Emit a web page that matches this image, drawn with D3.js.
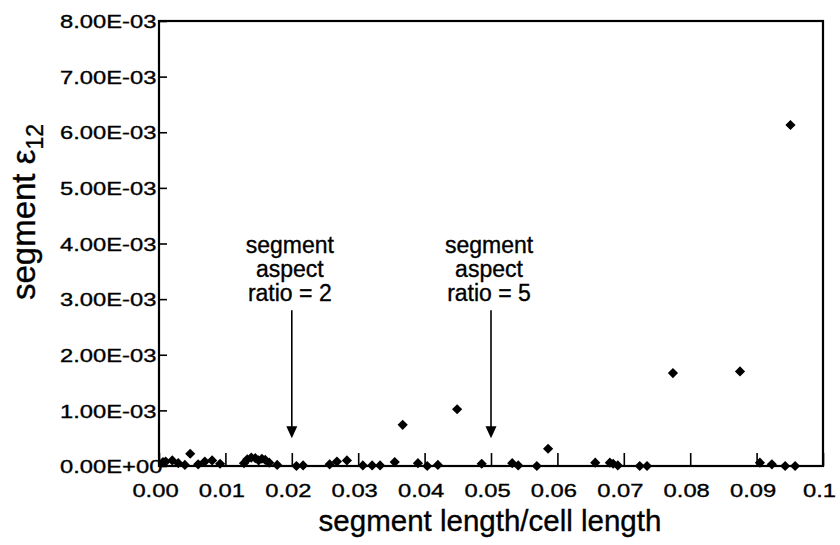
<!DOCTYPE html>
<html>
<head>
<meta charset="utf-8">
<script src="https://cdn.jsdelivr.net/npm/d3@7"></script>
<style>
  body { margin: 0; background: #fff; }
  text { font-family: "Liberation Sans", Arial, Helvetica, sans-serif; fill: #000; stroke: #000; stroke-width: 0.35px; }
</style>
</head>
<body>
<svg id="chart" width="840" height="545"></svg>
<script>
// segment length / cell length
const xVals = [
  0.0006, 0.0010, 0.0020, 0.0029, 0.0039, 0.0047, 0.0059, 0.0069, 0.0080, 0.0092,
  0.0128, 0.0133, 0.0139, 0.0145, 0.0150, 0.0155, 0.0160, 0.0166, 0.0178,
  0.0207, 0.0217, 0.0257, 0.0268, 0.0283,
  0.0307, 0.0321, 0.0333, 0.0355, 0.0367, 0.0390, 0.0404, 0.0420, 0.0449, 0.0486,
  0.0532, 0.0541, 0.0569, 0.0586, 0.0657, 0.0679, 0.0684, 0.0691, 0.0724, 0.0735,
  0.0774, 0.0875, 0.0905, 0.0923, 0.0943, 0.0951, 0.0958
];
// segment e12
const yVals = [
  7e-5, 8e-5, 1e-4, 5e-5, 2e-5, 2.2e-4, 3e-5, 8e-5, 1e-4, 4e-5,
  5e-5, 1.2e-4, 1.5e-4, 1.4e-4, 1e-4, 1.3e-4, 1.1e-4, 6e-5, 2e-5,
  0, 1e-5, 3e-5, 8e-5, 1e-4,
  1e-5, 1e-5, 1e-5, 7e-5, 7.4e-4, 5e-5, 0, 2e-5, 1.02e-3, 4e-5,
  5e-5, 1e-5, 0, 3.1e-4, 6e-5, 6e-5, 4e-5, 1e-5, 0, 0,
  1.67e-3, 1.7e-3, 6e-5, 3e-5, 0, 6.13e-3, 0
];

const xTicks = [0, 0.01, 0.02, 0.03, 0.04, 0.05, 0.06, 0.07, 0.08, 0.09, 0.1];
const xTickLabels = ["0.00", "0.01", "0.02", "0.03", "0.04", "0.05", "0.06", "0.07", "0.08", "0.09", "0.1"];
const yTicks = [0, 0.001, 0.002, 0.003, 0.004, 0.005, 0.006, 0.007, 0.008];
const yTickLabels = ["0.00E+00", "1.00E-03", "2.00E-03", "3.00E-03", "4.00E-03",
                     "5.00E-03", "6.00E-03", "7.00E-03", "8.00E-03"];

// arrows: x position, top and tip of the arrow (data units)
const arrowX = [0.02, 0.05];
const arrowTop = 0.0028;
const arrowTip = 0.0005;
const arrowText = [["segment", "aspect", "ratio = 2"], ["segment", "aspect", "ratio = 5"]];

const svg = d3.select("#chart");
const plotL = 159, plotR = 823, plotT = 21, plotB = 466;
const stretch = 1.25; // tick labels are a bit wide

const x = d3.scaleLinear().domain([0, 0.1]).range([plotL, plotR]);
const y = d3.scaleLinear().domain([0, 0.008]).range([plotB, plotT]);

// x axis, ticks pointing up into the plot
const gx = svg.append("g")
  .attr("transform", `translate(0,${plotB})`)
  .call(d3.axisBottom(x).tickValues(xTicks).tickSizeInner(-13).tickSizeOuter(0)
    .tickFormat((d, i) => xTickLabels[i]));
gx.select(".domain").remove();
gx.selectAll(".tick line").attr("stroke", "#000").attr("stroke-width", 1.6);
gx.selectAll(".tick text")
  .attr("y", 31).attr("dy", null)
  .attr("font-size", 19)
  .attr("transform", `scale(${stretch},1)`)
  .attr("x", -4 / stretch);

// y axis, ticks pointing right, labels left aligned
const gy = svg.append("g")
  .attr("transform", `translate(${plotL},0)`)
  .call(d3.axisLeft(y).tickValues(yTicks).tickSizeInner(-8).tickSizeOuter(0)
    .tickFormat((d, i) => yTickLabels[i]));
gy.select(".domain").remove();
gy.selectAll(".tick line").attr("stroke", "#000").attr("stroke-width", 1.6);
gy.selectAll(".tick text")
  .attr("text-anchor", "start")
  .attr("font-size", 19)
  .attr("x", (60 - plotL) / stretch)
  .attr("dy", "0.35em")
  .attr("transform", `scale(${stretch},1)`);

// frame
svg.append("rect")
  .attr("x", plotL).attr("y", plotT)
  .attr("width", plotR - plotL).attr("height", plotB - plotT)
  .attr("fill", "none").attr("stroke", "#000").attr("stroke-width", 2.2);

// points
const pts = xVals.map((v, i) => ({ x: v, y: yVals[i] }));
const diamond = d3.symbol().type(d3.symbolSquare).size(52);
svg.append("g").selectAll("path")
  .data(pts)
  .join("path")
  .attr("d", diamond)
  .attr("fill", "#000")
  .attr("transform", d => `translate(${x(d.x)},${y(d.y)}) rotate(45)`);

// arrows + notes
arrowX.forEach((ax, i) => {
  const px = x(ax);
  const y0 = y(arrowTop), y1 = y(arrowTip);
  svg.append("line")
    .attr("x1", px).attr("x2", px)
    .attr("y1", y0).attr("y2", y1 - 10)
    .attr("stroke", "#000").attr("stroke-width", 1.6);
  svg.append("path")
    .attr("d", `M${px - 5.5},${y1 - 12}L${px + 5.5},${y1 - 12}L${px},${y1}Z`)
    .attr("fill", "#000");
  const t = svg.append("text")
    .attr("text-anchor", "middle")
    .attr("font-size", 23);
  arrowText[i].forEach((s, j) => {
    t.append("tspan").attr("x", px - 2).attr("y", y0 - 57 + j * 24).text(s);
  });
});

// axis titles
svg.append("text")
  .attr("x", 490).attr("y", 531)
  .attr("text-anchor", "middle")
  .attr("font-size", 29.5)
  .text("segment length/cell length");

const yt = svg.append("text")
  .attr("transform", "translate(35,212) rotate(-90)")
  .attr("text-anchor", "middle")
  .attr("font-size", 33);
yt.append("tspan").text("segment ");
yt.append("tspan").text("ε");
yt.append("tspan").attr("font-size", 23).attr("dy", 8).text("12");
</script>
</body>
</html>
